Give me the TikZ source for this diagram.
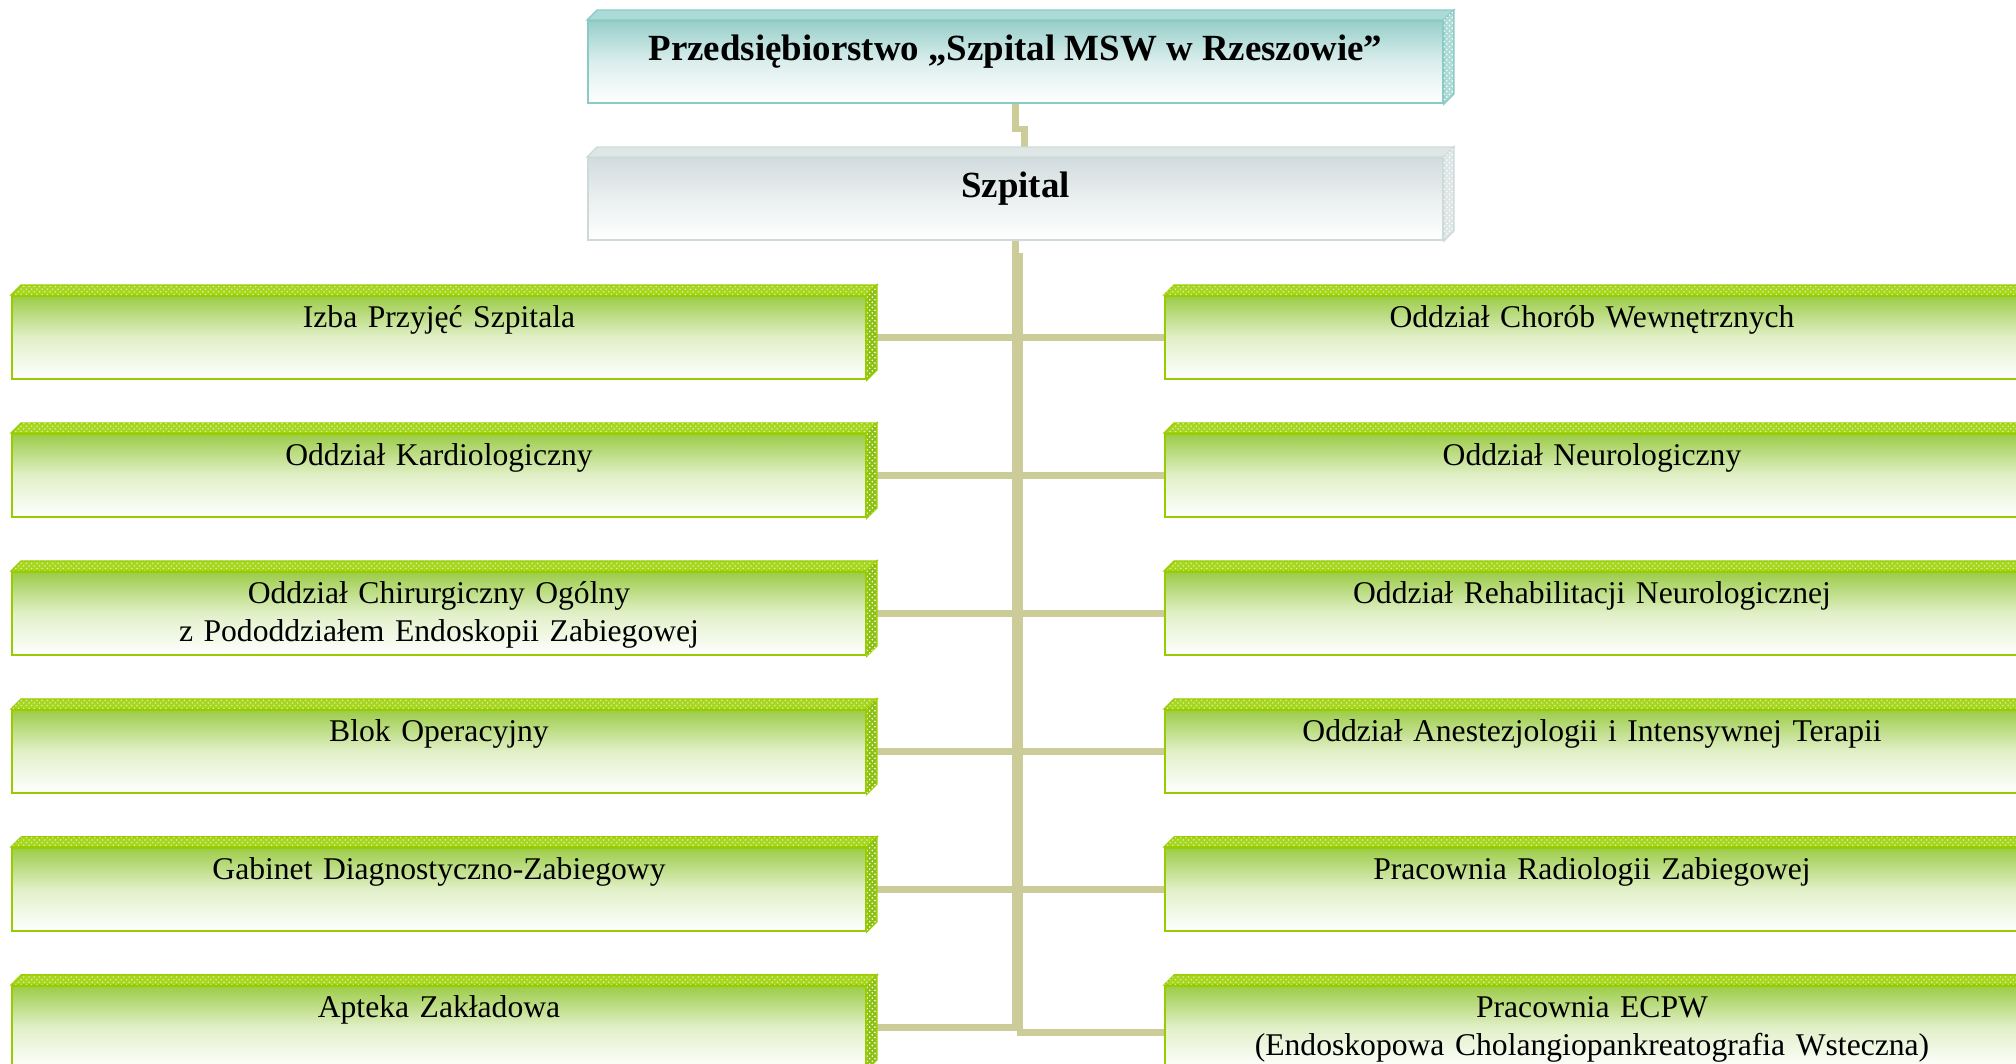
\documentclass[tikz,border=0pt]{standalone}
\usepackage{fontspec}
\setmainfont{Liberation Serif}
\usepackage{tikz}
\usetikzlibrary{patterns,backgrounds,positioning}

\definecolor{grnface}{RGB}{156,204,72}
\definecolor{grnline}{RGB}{153,204,0}
\definecolor{grnbevel}{RGB}{166,214,30}
\definecolor{grnedge}{RGB}{140,192,20}
\definecolor{tealface}{RGB}{152,207,202}
\definecolor{tealline}{RGB}{140,202,197}
\definecolor{tealbevel}{RGB}{172,218,214}
\definecolor{grayface}{RGB}{210,220,222}
\definecolor{grayline}{RGB}{206,218,218}
\definecolor{graybevel}{RGB}{222,230,230}
\definecolor{linkcol}{RGB}{204,204,153}

\tikzstyle{unit} = [rectangle, minimum width=17.08cm, minimum height=1.66cm, text width=16cm, inner sep=0pt, align=center, text height=15pt, text depth=26pt, font=\fontsize{18}{21.6}\selectfont, draw=grnline, line width=1.1pt, top color=grnface, bottom color=white, middle color=grnface!30!white]
\tikzstyle{head} = [rectangle, minimum width=17.1cm, minimum height=1.64cm, inner sep=0pt, text height=15pt, text depth=17pt, font=\fontsize{21}{25}\selectfont\bfseries, line width=1.1pt]
\tikzstyle{grntop} = [draw=grnline, line width=0.8pt, fill=grnbevel, postaction={pattern=crosshatch dots, pattern color=white!60!grnbevel}]
\tikzstyle{grnside} = [draw=grnline, line width=0.8pt, fill=grnedge, postaction={pattern=crosshatch dots, pattern color=white}]
\tikzstyle{link} = [line width=3.9pt, draw=linkcol]

\begin{document}
\begin{tikzpicture}[x=0.02cm, y=-0.02cm, node distance=2.76cm]
\useasboundingbox (0,0) rectangle (2016,1064);
\clip (0,0) rectangle (2016,1064);

% head boxes
\node(title) [head, draw=tealline, top color=tealface, bottom color=white, middle color=tealface!35!white] at (1015.5,62) {Przedsiębiorstwo „Szpital MSW w Rzeszowie”};
\node(szp) [head, draw=grayline, top color=grayface, bottom color=white, middle color=grayface!45!white] at (1015.5,199) {Szpital};

% left column
\node(izba) [unit] at (439,337.5) {Izba Przyjęć Szpitala};
\node(kardio) [unit, below of = izba] {Oddział Kardiologiczny};
\node(chir) [unit, below of = kardio] {Oddział Chirurgiczny Ogólny\\z Pododdziałem Endoskopii Zabiegowej};
\node(blok) [unit, below of = chir] {Blok Operacyjny};
\node(gabinet) [unit, below of = blok] {Gabinet Diagnostyczno-Zabiegowy};
\node(apteka) [unit, below of = gabinet] {Apteka Zakładowa};

% right column
\node(chorob) [unit] at (1592,337.5) {Oddział Chorób Wewnętrznych};
\node(neuro) [unit, below of = chorob] {Oddział Neurologiczny};
\node(rehab) [unit, below of = neuro] {Oddział Rehabilitacji Neurologicznej};
\node(anest) [unit, below of = rehab] {Oddział Anestezjologii i Intensywnej Terapii};
\node(radio) [unit, below of = anest] {Pracownia Radiologii Zabiegowej};
\node(ecpw) [unit, below of = radio] {Pracownia ECPW\\(Endoskopowa Cholangiopankreatografia Wsteczna)};

% 3d edges
\filldraw[draw=tealline, line width=0.8pt, fill=tealbevel] (title.north west) -- ([shift={(10,-10)}]title.north west) -- ([shift={(10,-10)}]title.north east) -- (title.north east) -- cycle;
\filldraw[draw=tealline, line width=0.8pt, fill=tealbevel, postaction={pattern=crosshatch dots, pattern color=white}] (title.north east) -- ([shift={(10,-10)}]title.north east) -- ([shift={(10,-10)}]title.south east) -- (title.south east) -- cycle;
\filldraw[draw=grayline, line width=0.8pt, fill=graybevel] (szp.north west) -- ([shift={(10,-10)}]szp.north west) -- ([shift={(10,-10)}]szp.north east) -- (szp.north east) -- cycle;
\filldraw[draw=grayline, line width=0.8pt, fill=graybevel, postaction={pattern=crosshatch dots, pattern color=white}] (szp.north east) -- ([shift={(10,-10)}]szp.north east) -- ([shift={(10,-10)}]szp.south east) -- (szp.south east) -- cycle;
\foreach \n in {izba,kardio,chir,blok,gabinet,apteka,chorob,neuro,rehab,anest,radio,ecpw}{
  \filldraw[grntop] (\n.north west) -- ([shift={(10,-10)}]\n.north west) -- ([shift={(10,-10)}]\n.north east) -- (\n.north east) -- cycle;
  \filldraw[grnside] (\n.north east) -- ([shift={(10,-10)}]\n.north east) -- ([shift={(10,-10)}]\n.south east) -- (\n.south east) -- cycle;
}

% connectors
\begin{pgfonlayer}{background}
\draw[link] (title.south) -- ++(0,25) -| ([xshift=0.18cm,yshift=0.2cm]szp.north);
\draw[link] (szp.south) |- (apteka.east);
\draw[link] ([xshift=0.09cm,yshift=-0.24cm]szp.south) |- ([yshift=-0.1cm]ecpw.west);
\foreach \l in {izba,kardio,chir,blok,gabinet}
  \draw[link] (\l.east) -- (\l.east -| szp.south);
\foreach \r in {chorob,neuro,rehab,anest,radio}
  \draw[link] (\r.west -| szp.south) -- (\r.west);
\end{pgfonlayer}

\end{tikzpicture}
\end{document}
